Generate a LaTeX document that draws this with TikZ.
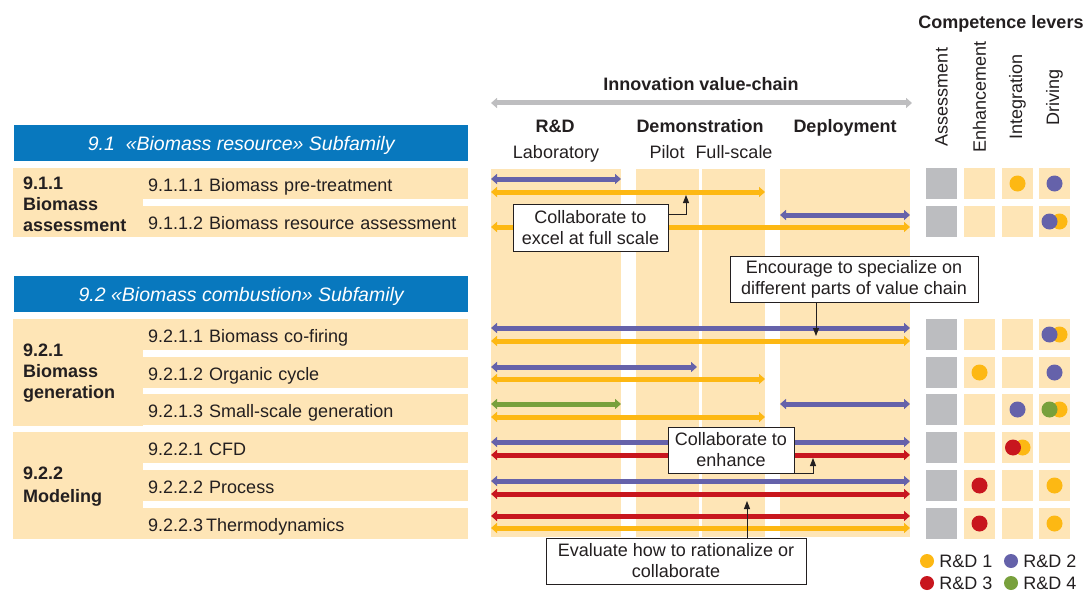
\documentclass[tikz,border=0pt]{standalone}
\usepackage{fontspec}
\setmainfont{Liberation Sans}
\usetikzlibrary{arrows.meta}

\definecolor{ink}{RGB}{35,31,32}
\definecolor{beige}{RGB}{254,229,182}
\definecolor{hblue}{RGB}{8,120,190}
\definecolor{lgray}{RGB}{190,190,192}
\definecolor{sqgray}{RGB}{188,189,192}
\definecolor{cpurple}{RGB}{101,98,170}
\definecolor{corange}{RGB}{253,184,19}
\definecolor{cred}{RGB}{200,22,30}
\definecolor{cgreen}{RGB}{120,160,60}

\tikzset{
  txt/.style={font=\fontsize{18}{20}\selectfont, text=ink, inner sep=0pt},
  btxt/.style={font=\fontsize{18}{20}\selectfont\bfseries, text=ink, inner sep=0pt},
  header/.style={fill=hblue, minimum width=454pt, minimum height=36pt, inner sep=0pt,
    text height=14pt, text depth=0pt,
    anchor=north west, text=white, font=\fontsize{19.5}{21}\selectfont\itshape},
  itemcell/.style={fill=beige, anchor=north west, minimum height=31pt, text width=312pt,
    text height=15.3pt, text depth=0pt,
    inner xsep=8pt, inner ysep=0pt, align=left, text=ink, font=\fontsize{18}{20}\selectfont},
  groupcell/.style={fill=beige, anchor=north west, minimum width=120pt, text width=110pt,
    inner xsep=10pt, inner ysep=0pt, align=left, text=ink,
    font=\fontsize{18}{21}\selectfont\bfseries},
  band/.style={fill=beige},
  lever/.style={minimum size=31pt, inner sep=0pt},
  dot/.style={circle, minimum size=16pt, inner sep=0pt},
  keydot/.style={circle, minimum size=14pt, inner sep=0pt},
  vc/.style={line width=5pt, {Triangle[length=6pt,width=10pt]}-{Triangle[length=6pt,width=10pt]}},
  callout/.style={draw=ink, line width=0.9pt, fill=white, align=center, inner sep=0pt,
    text=ink, font=\fontsize{18}{21}\selectfont},
  pointer/.style={draw=ink, line width=0.9pt, -{Triangle[length=8pt,width=6pt]}},
}

\begin{document}
\begin{tikzpicture}[x=1pt, y=-1pt]
\useasboundingbox (0,0) rectangle (1089,591);

% ---------- value-chain bands ----------
\fill[band] (491,169) rectangle (621,537);
\fill[band] (636,169) rectangle (699,537);
\fill[band] (702,169) rectangle (765,537);
\fill[band] (780,169) rectangle (910,537);

% ---------- value-chain heading ----------
\node[btxt, anchor=base] (ivc) at (701,91) {Innovation value-chain};
\coordinate (ivcL) at (491,103);
\coordinate (ivcR) at (912,103);
\draw[vc, draw=lgray, fill=lgray] (ivcL) -- (ivcR);
\node[btxt, anchor=base] (rd) at (555,132) {R\&D};
\node[btxt, anchor=base] (demo) at (700,132) {Demonstration};
\node[btxt, anchor=base] (depl) at (845,132) {Deployment};
\node[txt, anchor=base] (lab) at (556,158) {Laboratory};
\node[txt, anchor=base] (pilot) at (667,158) {Pilot};
\node[txt, anchor=base] (full) at (734,158) {Full-scale};

% ---------- subfamily headers ----------
\node[header] (h1) at (14,125) {9.1\ \ «Biomass resource» Subfamily};
\node[header] (h2) at (14,276) {9.2 «Biomass combustion» Subfamily};

% ---------- groups ----------
\node[groupcell, minimum height=69pt, text height=16pt] (g1) at (13,168) {9.1.1\\Biomass\\assessment};
\node[groupcell, minimum height=107pt] (g2) at (13,319) {9.2.1\\Biomass\\generation};
\node[groupcell, minimum height=107pt, text height=15pt] (g3) at (13,432) {9.2.2\\[2pt]Modeling};

% ---------- items ----------
\node[itemcell] (r1) at (140,168) {9.1.1.1 Biomass pre-treatment};
\node[itemcell] (r2) at (140,206) {9.1.1.2 Biomass resource assessment};
\node[itemcell] (r3) at (140,319) {9.2.1.1 Biomass co-firing};
\node[itemcell] (r4) at (140,357) {9.2.1.2 Organic cycle};
\node[itemcell] (r5) at (140,394) {9.2.1.3 Small-scale generation};
\node[itemcell] (r6) at (140,432) {9.2.2.1 CFD};
\node[itemcell] (r7) at (140,470) {9.2.2.2 Process};
\node[itemcell] (r8) at (140,508) {9.2.2.3\,Thermodynamics};

% ---------- value-chain coverage arrows ----------
\draw[vc, draw=cpurple, fill=cpurple] (491,179) -- (621,179);
\draw[vc, draw=corange, fill=corange] (491,192) -- (765,192);
\draw[vc, draw=cpurple, fill=cpurple] (780,215) -- (910,215);
\draw[vc, draw=corange, fill=corange] (491,227) -- (910,227);

\draw[vc, draw=cpurple, fill=cpurple] (491,328) -- (910,328);
\draw[vc, draw=corange, fill=corange] (491,341) -- (910,341);
\draw[vc, draw=cpurple, fill=cpurple] (491,367) -- (697,367);
\draw[vc, draw=corange, fill=corange] (491,379) -- (765,379);
\draw[vc, draw=cgreen, fill=cgreen] (491,404) -- (621,404);
\draw[vc, draw=cpurple, fill=cpurple] (780,404) -- (910,404);
\draw[vc, draw=corange, fill=corange] (491,417) -- (765,417);

\draw[vc, draw=cpurple, fill=cpurple] (491,442) -- (910,442);
\draw[vc, draw=cred, fill=cred] (491,455) -- (910,455);
\draw[vc, draw=cpurple, fill=cpurple] (491,481) -- (910,481);
\draw[vc, draw=cred, fill=cred] (491,494) -- (910,494);
\draw[vc, draw=cred, fill=cred] (491,516) -- (910,516);
\draw[vc, draw=corange, fill=corange] (491,528) -- (910,528);

% ---------- callouts ----------
\node[callout, minimum width=155pt, minimum height=47pt] (c1) at (590.5,227.5)
  {Collaborate to\\excel at full scale};
\coordinate (t1) at (686,195);
\draw[pointer] ([yshift=13.5pt]c1.east) -| (t1);

\node[callout, minimum width=248pt, minimum height=46pt] (c2) at (854,279)
  {Encourage to specialize on\\different parts of value chain};
\coordinate (t2) at (816,336);
\draw[pointer] (t2 |- c2.south) -- (t2);

\node[callout, minimum width=126pt, minimum height=46pt] (c3) at (731,450)
  {Collaborate to\\enhance};
\coordinate (t3) at (813,458);
\draw[pointer] (c3.south east) -| (t3);

\node[callout, minimum width=260pt, minimum height=46pt] (c4) at (676,561)
  {Evaluate how to rationalize or\\collaborate};
\coordinate (t4) at (747,501);
\draw[pointer] (t4 |- c4.north) -- (t4);

% ---------- competence levers ----------
\node[btxt, anchor=base] (cl) at (1001,29) {Competence levers};
\node[txt, rotate=90] (la) at (941.5,97) {Assessment};
\node[txt, rotate=90] (le) at (979.5,97) {Enhancement};
\node[txt, rotate=90] (li) at (1017.5,97) {Integration};
\node[txt, rotate=90] (ld) at (1054.5,97) {Driving};

\foreach \y [count=\i] in {183.5,221.5,334.5,372.5,409.5,447.5,485.5,523.5} {
  \node[lever, fill=sqgray] (a\i) at (941.5,\y) {};
  \node[lever, fill=beige]  (e\i) at (979.5,\y) {};
  \node[lever, fill=beige]  (n\i) at (1017.5,\y) {};
  \node[lever, fill=beige]  (d\i) at (1054.5,\y) {};
}

% row 1
\node[dot, fill=corange] at (n1) {};
\node[dot, fill=cpurple] at (d1) {};
% row 2
\node[dot, fill=corange] at ([xshift=5pt]d2.center) {};
\node[dot, fill=cpurple] at ([xshift=-5pt]d2.center) {};
% row 3
\node[dot, fill=corange] at ([xshift=5pt]d3.center) {};
\node[dot, fill=cpurple] at ([xshift=-5pt]d3.center) {};
% row 4
\node[dot, fill=corange] at (e4) {};
\node[dot, fill=cpurple] at (d4) {};
% row 5
\node[dot, fill=cpurple] at (n5) {};
\node[dot, fill=corange] at ([xshift=5pt]d5.center) {};
\node[dot, fill=cgreen]  at ([xshift=-5pt]d5.center) {};
% row 6
\node[dot, fill=corange] at ([xshift=5pt]n6.center) {};
\node[dot, fill=cred]    at ([xshift=-4.5pt]n6.center) {};
% row 7
\node[dot, fill=cred]    at (e7) {};
\node[dot, fill=corange] at (d7) {};
% row 8
\node[dot, fill=cred]    at (e8) {};
\node[dot, fill=corange] at (d8) {};

% ---------- key ----------
\node[keydot, fill=corange] (k1) at (927,561) {};
\node[txt, anchor=west] at ([xshift=5pt]k1.east) {R\&D 1};
\node[keydot, fill=cpurple] (k2) at (1011,561) {};
\node[txt, anchor=west] at ([xshift=5pt]k2.east) {R\&D 2};
\node[keydot, fill=cred] (k3) at (927,583) {};
\node[txt, anchor=west] at ([xshift=5pt]k3.east) {R\&D 3};
\node[keydot, fill=cgreen] (k4) at (1011,583) {};
\node[txt, anchor=west] at ([xshift=5pt]k4.east) {R\&D 4};
\end{tikzpicture}
\end{document}
